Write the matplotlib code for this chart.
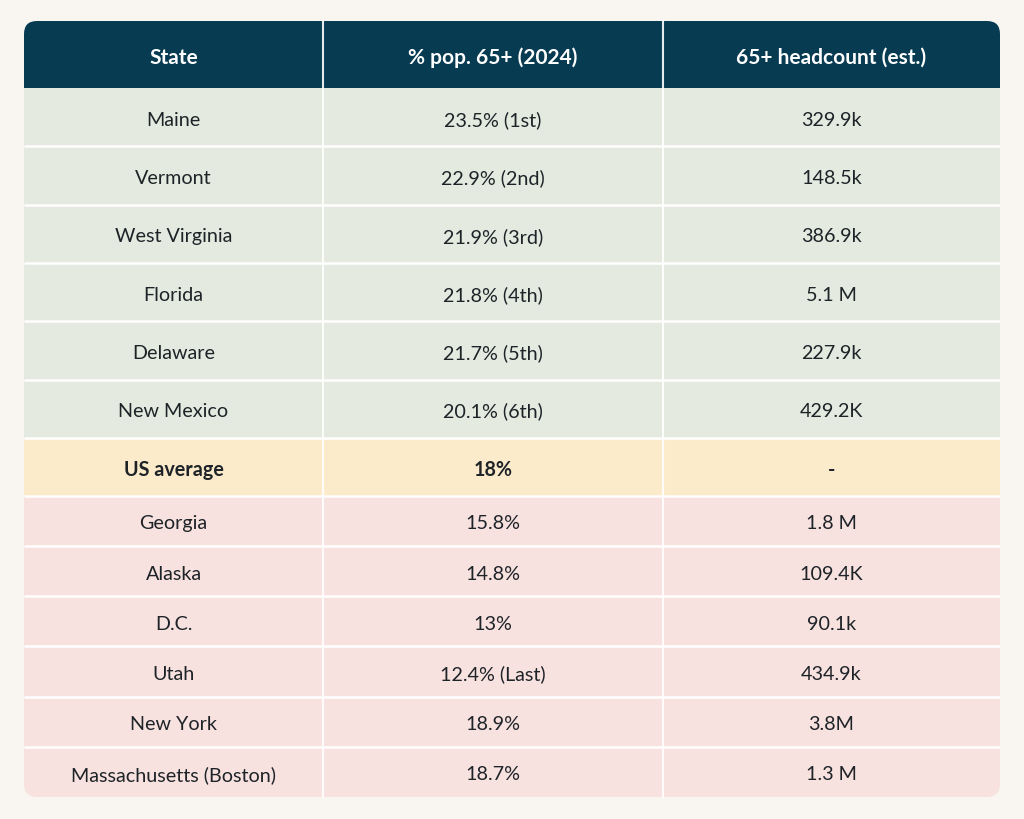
import matplotlib.pyplot as plt
from matplotlib.patches import Rectangle, FancyBboxPatch

# table content
headers = ["State", "% pop. 65+ (2024)", "65+ headcount (est.)"]
states = ["Maine", "Vermont", "West Virginia", "Florida", "Delaware", "New Mexico",
          "US average",
          "Georgia", "Alaska", "D.C.", "Utah", "New York", "Massachusetts (Boston)"]
pct_65 = ["23.5% (1st)", "22.9% (2nd)", "21.9% (3rd)", "21.8% (4th)", "21.7% (5th)", "20.1% (6th)",
          "18%",
          "15.8%", "14.8%", "13%", "12.4% (Last)", "18.9%", "18.7%"]
headcount = ["329.9k", "148.5k", "386.9k", "5.1 M", "227.9k", "429.2K",
             "-",
             "1.8 M", "109.4K", "90.1k", "434.9k", "3.8M", "1.3 M"]
row_group = ["top"] * 6 + ["avg"] + ["low"] * 6

BG = "#f9f6f1"
HEADER = "#073b52"
FILLS = {"top": "#e4eae0", "avg": "#fcebca", "low": "#f7e2e0"}
TEXT = "#1e2328"

plt.rcParams['font.family'] = ['Lato', 'DejaVu Sans']

fig = plt.figure(figsize=(10.24, 8.19), dpi=100, facecolor=BG)
ax = fig.add_axes([0, 0, 1, 1])
ax.set_xlim(0, 1024)
ax.set_ylim(819, 0)
ax.axis("off")

left, right, top, bottom = 24, 1000, 21, 797
col_edges = [left, 323, 663, right]
header_h = 67
row_h = {"top": 58.3, "avg": 58.0, "low": 50.2}
txt_dy = 3  # labels sit a little below the row centre

clip = FancyBboxPatch((left, top), right - left, bottom - top,
                      boxstyle="round,pad=0,rounding_size=13",
                      facecolor="none", edgecolor="none", transform=ax.transData)
ax.add_patch(clip)

# header
r = Rectangle((left, top), right - left, header_h, facecolor=HEADER, edgecolor="none")
ax.add_patch(r)
r.set_clip_path(clip)
for i, h in enumerate(headers):
    cx = (col_edges[i] + col_edges[i + 1]) / 2
    ax.text(cx, top + header_h / 2 + txt_dy, h, color="white", fontsize=15, fontweight="bold",
            ha="center", va="center")

# body rows
y = top + header_h
for i, st in enumerate(states):
    g = row_group[i]
    h = row_h[g]
    r = Rectangle((left, y), right - left, h, facecolor=FILLS[g], edgecolor="none")
    ax.add_patch(r)
    r.set_clip_path(clip)
    weight = "bold" if g == "avg" else "normal"
    for j, val in enumerate([st, pct_65[i], headcount[i]]):
        cx = (col_edges[j] + col_edges[j + 1]) / 2
        ax.text(cx, y + h / 2 + txt_dy, val, color=TEXT, fontsize=14.2, fontweight=weight,
                ha="center", va="center")
    if i > 0:
        ax.plot([left, right], [y, y], color="white", lw=1.8, solid_capstyle="butt")
    y += h

# column separators
for xe in col_edges[1:-1]:
    ax.plot([xe, xe], [top, bottom], color="white", lw=1.5, alpha=0.9)

fig.savefig("out.png", dpi=100, facecolor=BG)
